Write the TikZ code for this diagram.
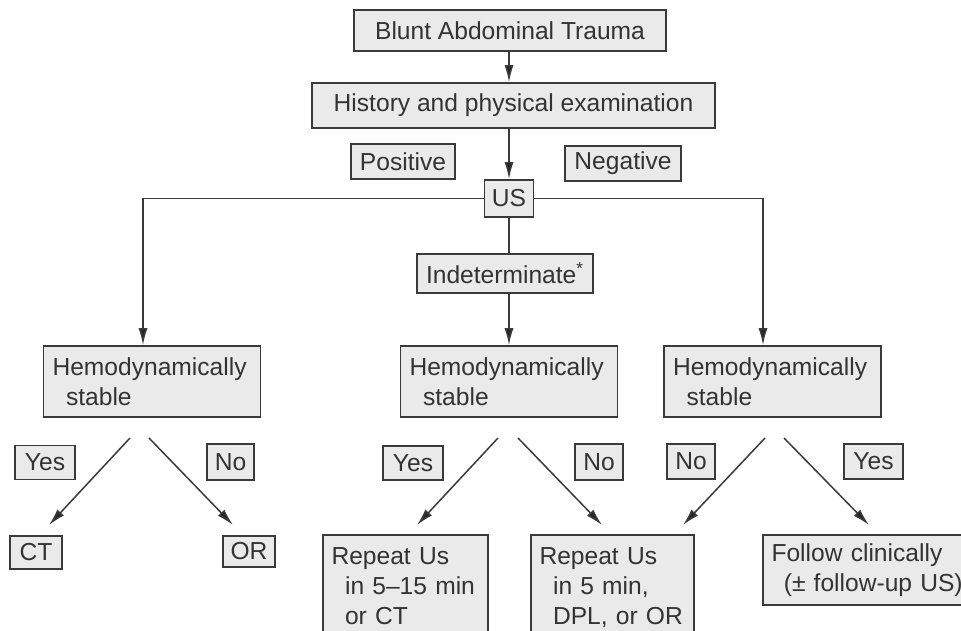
\documentclass[tikz,border=0pt]{standalone}
\usepackage{fontspec}
\setmainfont{Liberation Sans}
\usepackage{tikz}
\usetikzlibrary{arrows.meta}

\definecolor{boxgray}{HTML}{EAEAEA}
\definecolor{linegray}{HTML}{3A3A3A}

\begin{document}
\begin{tikzpicture}[x=0.02cm, y=-0.02cm,
    >={Latex[length=3.4mm,width=1.8mm,fill=black!85]},
    line/.style={draw=linegray, line width=0.85pt},
    box/.style={draw=linegray, line width=0.9pt, fill=boxgray, inner sep=0pt,
        text=black!80, font=\fontsize{14}{17}\selectfont},
    stablebox/.style={box, minimum height=1.42cm, text width=3.98cm,
        inner xsep=0.18cm, align=left},
    endbox/.style={box, anchor=north, inner xsep=0.17cm, align=left}]
\useasboundingbox (0,0) rectangle (961,630);
\clip (0,0) rectangle (961,630);

% Top of the chart
\node[box, minimum width=6.24cm, minimum height=0.82cm] (trauma) at (510,30.5) {Blunt Abdominal Trauma};
\node[box, minimum width=8.06cm, minimum height=0.9cm] (history) at (513.5,105.5) {History and physical examination};
\node[box, minimum width=2.08cm, minimum height=0.7cm] (pos) at (403,161.5) {Positive};
\node[box, minimum width=2.32cm, minimum height=0.7cm] (neg) at (623,163.5) {Negative};
\node[box, minimum width=0.98cm, minimum height=0.74cm] (us) at (509,198.5) {US};
\node[box, minimum width=3.52cm, minimum height=0.78cm] (indet) at (505,273.5) {Indeterminate\textsuperscript{*}};

% Stability boxes
\node[stablebox] (hemoL) at (152,381.5) {Hemodynamically\\\hspace*{0.55em}stable};
\node[stablebox] (hemoM) at (509,381.5) {Hemodynamically\\\hspace*{0.55em}stable};
\node[stablebox] (hemoR) at (772.5,381.5) {Hemodynamically\\\hspace*{0.55em}stable};

% Yes / No tags
\node[box, minimum width=1.2cm, minimum height=0.68cm] (yesL) at (45,462.5) {Yes};
\node[box, minimum width=0.94cm, minimum height=0.72cm] (noL) at (230.5,462) {No};
\node[box, minimum width=1.2cm, minimum height=0.68cm] (yesM) at (413,463) {Yes};
\node[box, minimum width=0.96cm, minimum height=0.72cm] (noM) at (599,462) {No};
\node[box, minimum width=0.96cm, minimum height=0.7cm] (noR) at (691,461.5) {No};
\node[box, minimum width=1.18cm, minimum height=0.7cm] (yesR) at (873.5,461.5) {Yes};

% Outcomes
\node[box, minimum width=1.04cm, minimum height=0.66cm] (ct) at (36,552.5) {CT};
\node[box, minimum width=1.04cm, minimum height=0.62cm] (or) at (249,551.5) {OR};
\node[endbox, text width=2.96cm, minimum height=2.04cm] (repA) at (405.5,534) {Repeat Us\\\hspace*{0.55em}in 5–15 min\\\hspace*{0.55em}or CT};
\node[endbox, text width=2.92cm, minimum height=2.1cm] (repB) at (612.5,534) {Repeat Us\\\hspace*{0.55em}in 5 min,\\\hspace*{0.55em}DPL, or OR};
\node[endbox, text width=3.88cm, minimum height=1.4cm] (follow) at (868.5,534) {Follow clinically\\\hspace*{0.5em}(± follow-up US)};

% Trunk
\coordinate (usleft) at (143,199);
\coordinate (usright) at (763,199);
\draw[line, ->] (trauma.south -| us) -- (history.north -| us);
\draw[line, ->] (history.south -| us) -- (us.north);
\draw[line, ->] (us.west) -| (hemoL.north -| usleft);
\draw[line, ->] (us.east) -| (hemoR.north -| usright);
\draw[line] (us.south) -- (indet.north -| us);
\draw[line, ->] (indet.south -| us) -- (hemoM.north -| us);

% Branches
\coordinate (l1) at (130,438); \coordinate (l2) at (149,438);
\coordinate (m1) at (498,438); \coordinate (m2) at (518,438);
\coordinate (r1) at (765,438); \coordinate (r2) at (784,438);
\coordinate (ctin) at (49,525); \coordinate (orin) at (233,525);
\coordinate (repAin) at (417,525); \coordinate (repBin) at (602,525);
\coordinate (repBin2) at (683,525); \coordinate (followin) at (869,525);
\foreach \a/\b in {l1/ctin, l2/orin, m1/repAin, m2/repBin, r1/repBin2, r2/followin}
    \draw[line, ->] (\a) -- (\b);
\end{tikzpicture}
\end{document}
